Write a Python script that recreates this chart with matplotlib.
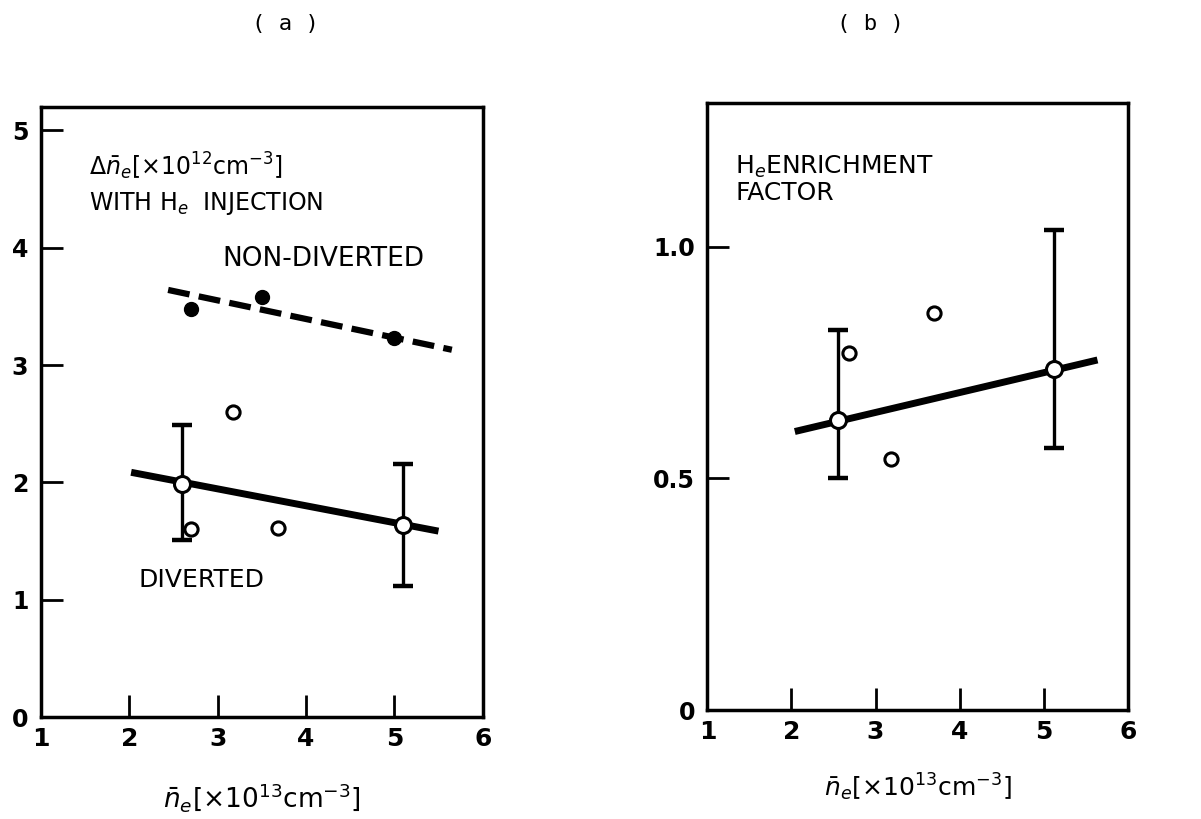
import matplotlib
matplotlib.use("Agg")
import matplotlib.pyplot as plt

# (a) density rise with He injection
nd_x = [2.7, 3.5, 5.0]          # non-diverted, filled
nd_y = [3.48, 3.58, 3.23]
nd_fit_x = [2.44, 5.65]
nd_fit_y = [3.64, 3.13]

dv_x = [3.17, 2.70, 3.68]       # diverted, open
dv_y = [2.60, 1.60, 1.61]
dv_mean_x = [2.60, 5.10]
dv_mean_y = [1.99, 1.64]
dv_err_lo = [1.51, 1.12]
dv_err_hi = [2.49, 2.16]
dv_fit_x = [2.06, 5.46]
dv_fit_y = [2.08, 1.59]

# (b) He enrichment factor
ef_x = [2.68, 3.69, 3.18]
ef_y = [0.77, 0.858, 0.543]
ef_mean_x = [2.55, 5.12]
ef_mean_y = [0.627, 0.737]
ef_err_lo = [0.50, 0.565]
ef_err_hi = [0.82, 1.037]
ef_fit_x = [2.08, 5.6]
ef_fit_y = [0.603, 0.754]

x_ticks = [1, 2, 3, 4, 5, 6]

fig = plt.figure(figsize=(12.01, 8.19), dpi=100)
ax1 = fig.add_axes([0.034, 0.1245, 0.368, 0.745])
ax2 = fig.add_axes([0.589, 0.133, 0.350, 0.741])


def style(ax, ylim, yticks, ylabels):
    ax.set_xlim(1, 6)
    ax.set_ylim(*ylim)
    for s in ax.spines.values():
        s.set_linewidth(2.5)
    ax.set_xticks(x_ticks)
    ax.set_xticklabels([str(v) for v in x_ticks], fontsize=18, fontweight='bold')
    ax.set_yticks(yticks)
    ax.set_yticklabels(ylabels, fontsize=17, fontweight='bold')
    ax.tick_params(axis='both', direction='in', length=16, width=2, pad=7)
    ax.tick_params(axis='y', pad=9)
    # no inner tick marks at the corners
    for t in ax.xaxis.get_major_ticks():
        if t.get_loc() in (1, 6):
            t.tick1line.set_visible(False)
    for t in ax.yaxis.get_major_ticks():
        if t.get_loc() == 0:
            t.tick1line.set_visible(False)


def errbars(ax, mx, my, lo, hi):
    ax.errorbar(mx, my,
                yerr=[[m - l for m, l in zip(my, lo)],
                      [h - m for m, h in zip(my, hi)]],
                fmt='none', ecolor='black', elinewidth=2.4, capsize=7,
                capthick=3.2)
    ax.plot(mx, my, 'o', mfc='white', mec='black', mew=2.2, ms=11.5)


style(ax1, (0, 5.2), [0, 1, 2, 3, 4, 5], ['0', '1', '2', '3', '4', '5'])
style(ax2, (0, 1.31), [0, 0.5, 1.0], ['0', '0.5', '1.0'])

# panel a
ax1.plot(nd_fit_x, nd_fit_y, color='black', lw=4.5, ls=(0, (3.5, 1.5)),
         solid_capstyle='butt')
ax1.plot(nd_x, nd_y, 'o', color='black', ms=10)
ax1.plot(dv_fit_x, dv_fit_y, color='black', lw=5)
errbars(ax1, dv_mean_x, dv_mean_y, dv_err_lo, dv_err_hi)
ax1.plot(dv_x, dv_y, 'o', mfc='white', mec='black', mew=2.2, ms=9.5)

ax1.text(1.55, 4.62, r'$\Delta\bar{n}_e$[$\times$10$^{12}$cm$^{-3}$]',
         fontsize=17)
ax1.text(1.55, 4.32, r'WITH H$_e$  INJECTION', fontsize=17)
ax1.text(3.05, 3.84, 'NON-DIVERTED', fontsize=19)
ax1.text(2.10, 1.11, 'DIVERTED', fontsize=18)

# panel b
ax2.plot(ef_fit_x, ef_fit_y, color='black', lw=5)
errbars(ax2, ef_mean_x, ef_mean_y, ef_err_lo, ef_err_hi)
ax2.plot(ef_x, ef_y, 'o', mfc='white', mec='black', mew=2.2, ms=9.5)

ax2.text(1.33, 1.157, r'H$_e$ENRICHMENT', fontsize=18)
ax2.text(1.33, 1.100, 'FACTOR', fontsize=18)

xlab = r'$\bar{n}_e$[$\times$10$^{13}$cm$^{-3}$]'
ax1.set_xlabel(xlab, fontsize=19, labelpad=22)
ax2.set_xlabel(xlab, fontsize=18, labelpad=20)

fig.text(0.238, 0.971, '( a )', fontsize=16, family='DejaVu Sans Mono',
         ha='center', va='center')
fig.text(0.725, 0.971, '( b )', fontsize=16, family='DejaVu Sans Mono',
         ha='center', va='center')

fig.savefig('out.png', dpi=100)
